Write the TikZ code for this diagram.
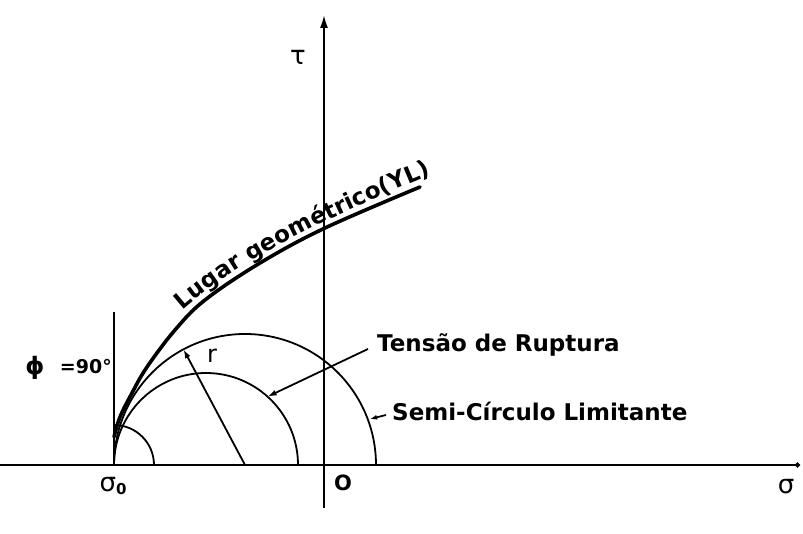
\documentclass[tikz,border=0pt]{standalone}
\usepackage{fontspec}
\setmainfont{DejaVu Sans}
\usetikzlibrary{arrows.meta,decorations.text,calc}
\begin{document}
\begin{tikzpicture}[x=1pt,y=1pt,
  thinline/.style={line width=1.8pt},
  thickcurve/.style={line width=3.6pt, line cap=round},
  lbl/.style={font=\bfseries\fontsize{23}{26}\selectfont, inner sep=0pt},
  tipa/.style={-{Latex[length=9pt,width=6pt]}}
]
\useasboundingbox (0,0) rectangle (803,533);
% axes
\coordinate (xL) at (0,68);
\coordinate (xR) at (800,68);
\coordinate (yB) at (324,25);
\coordinate (yT) at (324,518);
\coordinate (s0) at (114,68);
\coordinate (s0top) at (114,221);
\coordinate (c1) at (206,68);
\coordinate (c2) at (245,68);
\draw[thinline,-{Circle[length=5pt]}] (xL) -- (xR);
\draw[thinline,-{Latex[length=13pt,width=8pt]}] (yB) -- (yT);
\draw[thinline] (s0) -- (s0top);
% circles
\draw[thinline] (s0) ++(40,0) arc[start angle=0,end angle=90,radius=40pt];
\draw[thinline] (c1) ++(92,0) arc[start angle=0,end angle=180,radius=92pt];
\draw[thinline] (c2) ++(131,0) arc[start angle=0,end angle=180,radius=131pt];
% radius
\coordinate (rtip) at ($(c2)+(118:131)$);
\draw[thinline,tipa] (c2) -- (rtip);
\node[font=\fontsize{24}{26}\selectfont] (rl) at (212,177) {r};
% curve
\draw[thickcurve] plot[smooth,tension=0.6] coordinates {(114,96) (120,116) (132,140) (147,166) (175,203) (205,233) (260,270) (325,305) (420,346)};
\coordinate (ta) at (188,216);
\coordinate (tb) at (450,356);
\path[decorate,decoration={text along path,raise=9pt,text align=left,
  text={|\bfseries\fontsize{23}{26}\selectfont|Lugar geométrico(YL)}}]
  (ta) .. controls (240,262) and (330,308) .. (tb);
% labels
\node[lbl,anchor=base west] (tens) at (377,181) {Tensão de Ruptura};
\node[lbl,anchor=base west] (semi) at (392,113) {Semi-Círculo Limitante};
\coordinate (tensS) at ($(tens.base west)+(-9,3)$);
\coordinate (tensT) at ($(c1)+(48:92)$);
\draw[thinline,tipa] (tensS) -- (tensT);
\coordinate (semiS) at ($(semi.base west)+(-6,5)$);
\coordinate (semiT) at (370,114);
\draw[thinline,-{Latex[length=7pt,width=5pt]}] (semiS) -- (semiT);
\node[font=\fontsize{26}{28}\selectfont] (sig) at (786,46) {σ};
\node[font=\fontsize{26}{28}\selectfont] (sig0) at (113,47) {σ\raisebox{-3pt}{\bfseries\fontsize{15}{15}\selectfont 0}};
\node[font=\bfseries\fontsize{21}{22}\selectfont] (Olbl) at (343,50) {O};
\node[font=\fontsize{26}{28}\selectfont] (tau) at (298,476) {τ};
\node[font=\bfseries\fontsize{24}{26}\selectfont] (phi) at (35,165) {ϕ};
\node[font=\bfseries\fontsize{19}{21}\selectfont,anchor=east,inner sep=0pt] (ninety) at (112,166) {=90°};
\end{tikzpicture}
\end{document}
